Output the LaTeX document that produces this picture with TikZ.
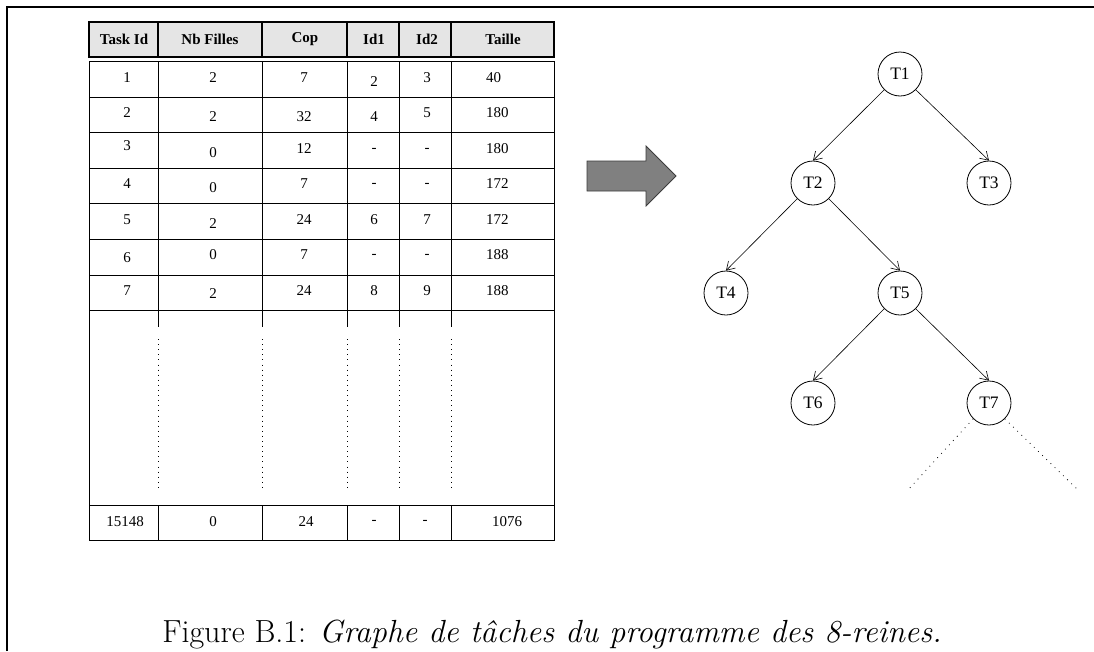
\documentclass[tikz,border=0pt]{standalone}
\usepackage{fontspec}
\newfontfamily\timesfont{Liberation Serif}
\usetikzlibrary{arrows.meta}

\definecolor{hdrgray}{RGB}{229,229,229}
\definecolor{arrowgray}{RGB}{128,128,128}
\definecolor{arrowedge}{RGB}{60,60,60}

\begin{document}
\begin{tikzpicture}[
  x=1pt, y=-1pt,
  >={Straight Barb[length=8pt,width=10pt]},
  every node/.style={font=\timesfont\fontsize{15}{17}\selectfont, inner sep=0pt},
  hdr/.style     = {draw, line width=1.6pt, fill=hdrgray},
  hdrtxt/.style  = {font=\timesfont\bfseries\fontsize{15}{17}\selectfont},
  grid/.style    = {line width=0.9pt},
  dots/.style    = {line width=0.9pt, dash pattern=on 0.9pt off 4.2pt},
  task/.style    = {draw, circle, line width=0.8pt, minimum size=44pt, font=\timesfont\fontsize{17.5}{19}\selectfont},
  edge/.style    = {->, line width=0.6pt},
  more/.style    = {line width=0.8pt, dash pattern=on 0.8pt off 5pt},
  frame/.style   = {line width=2pt},
  bigarrow/.style= {draw=arrowedge, fill=arrowgray, line width=0.8pt},
  caption/.style = {font=\fontsize{32}{38}\selectfont, anchor=base},
]
  \useasboundingbox (0,0) rectangle (1094,651);
  \draw[frame] (7,651) -- (7,7) -- (1094,7);

  % table header
  \draw[hdr] (89,22) rectangle (554,57);
  \foreach \x in {158,262,347,399,451} \draw[line width=1.3pt] (\x,22) -- (\x,57);
  \foreach \x/\txt [count=\i] in {124/Task Id,210/Nb Filles,305/Cop,374/Id1,427/Id2,503/Taille}
    \node[hdrtxt] (h\i) at (\x,39.5) {\txt};

  % table body
  \draw[grid] (89,61) rectangle (554,540);
  \foreach \y in {97,132,168,203,239,275,310,505} \draw[grid] (89,\y) -- (554,\y);
  \foreach \x in {158,262,347,399,451}{
    \draw[grid] (\x,61) -- (\x,327);
    \draw[dots] (\x,339) -- (\x,491);
    \draw[grid] (\x,505) -- (\x,540);
  }
  \foreach \y/\row [count=\r] in {
      78/{1/0,2/0,7/0,2/4,3/0,40/0},
      113/{2/0,2/4,32/4,4/4,5/0,180/0},
      149/{3/-3,0/4,12/0,-/1,-/1,180/0},
      184/{4/0,0/4,7/0,-/1,-/1,172/0},
      220/{5/0,2/4,24/0,6/0,7/0,172/0},
      255/{6/3,0/0,7/0,-/1,-/1,188/0},
      291/{7/0,2/3,24/0,8/0,9/0,188/0}}{
    \foreach \v/\dy [count=\c] in \row {
      \pgfmathsetmacro\xx{{127,213,304,374,427,486}[\c-1]}
      \ifnum\c=6
        \node[anchor=west] (v\r-\c) at (\xx,\y+\dy) {\v};
      \else
        \node (v\r-\c) at (\xx,\y+\dy) {\v};
      \fi
    }
  }
  \foreach \x/\v [count=\c] in {125/15148,213/0,306/24,374/-,425/-,507/1076}
    \node (last\c) at (\x,522) {\v};

  % big arrow
  \draw[bigarrow] (587,161) -- (646,161) -- (646,146) -- (676,176) -- (646,206) -- (646,191) -- (587,191) -- cycle;

  % task tree
  \node[task] (t1) at (900,74)    {T1};
  \node[task] (t2) at (813,183)   {T2};
  \node[task] (t3) at (989,183)   {T3};
  \node[task] (t4) at (726,293)   {T4};
  \node[task] (t5) at (900,293)   {T5};
  \node[task] (t6) at (813,403)   {T6};
  \node[task] (t7) at (989,403)   {T7};
  \foreach \p/\k/\a in {t1/t2/south west,t1/t3/south east,t2/t4/south west,t2/t5/south east,t5/t6/south west,t5/t7/south east}
    \draw[edge] (\p.\a) -- (\k.north);
  \coordinate (more1) at (907,491);
  \coordinate (more2) at (1077,489);
  \draw[more] (t7.south west) -- (more1);
  \draw[more] (t7.south east) -- (more2);

  \node[caption] (cap) at (552,642) {Figure B.1: \textit{Graphe de tâches du programme des 8-reines.}};
\end{tikzpicture}
\end{document}
